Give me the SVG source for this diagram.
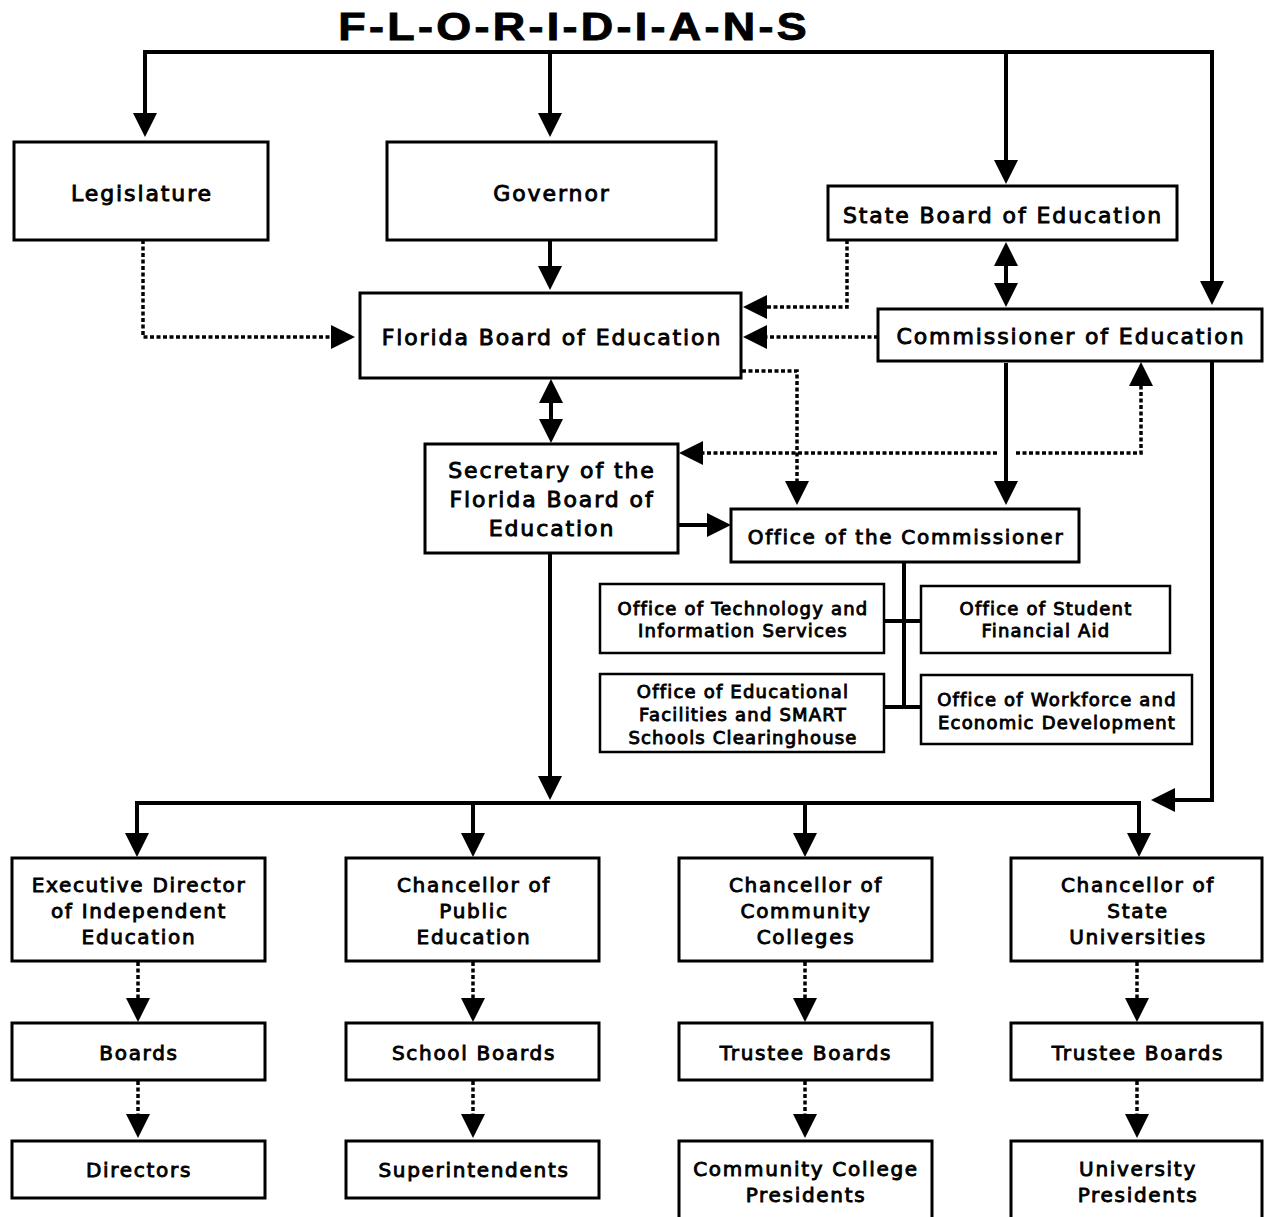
<svg xmlns="http://www.w3.org/2000/svg" width="1264" height="1217" viewBox="0 0 1264 1217">
<style>
.bx{fill:#fff;stroke:#000;stroke-width:3}
.ob{fill:#fff;stroke:#000;stroke-width:2.5}
text{font-family:"DejaVu Sans","Liberation Sans",sans-serif;font-weight:normal;text-anchor:middle;fill:#000;stroke:#000;stroke-width:0.9px}
.t22{font-size:22px;letter-spacing:1.9px}
.t20{font-size:20px;letter-spacing:1.7px}
.t18{font-size:18px;letter-spacing:1.2px}
.title{font-family:"Liberation Sans",Arial,sans-serif;font-weight:bold;font-size:38px;stroke-width:0.9px}
.s{fill:none;stroke:#000;stroke-width:4}
.d{fill:none;stroke:#000;stroke-width:3.5;stroke-dasharray:4 2.5}
.ln{fill:none;stroke:#000;stroke-width:4}
</style>
<defs>
<marker id="ah" markerUnits="userSpaceOnUse" viewBox="0 0 24 24" markerWidth="24" markerHeight="24" refX="14" refY="12" orient="auto-start-reverse">
<path d="M0,0 L24,12 L0,24 z" fill="#000"/>
</marker>
</defs>
<rect width="1264" height="1217" fill="#fff"/>
<text class="title" transform="translate(572.5,40) scale(1.18,1)" x="0" y="0" textLength="397" lengthAdjust="spacing">F-L-O-R-I-D-I-A-N-S</text>

<g id="connectors">
<path class="s" d="M145,127 V52 H1212 V295" marker-start="url(#ah)" marker-end="url(#ah)"/>
<path class="s" d="M550,52 V127" marker-end="url(#ah)"/>
<path class="s" d="M1006,52 V174" marker-end="url(#ah)"/>
<path class="s" d="M550,240 V280" marker-end="url(#ah)"/>
<path class="s" d="M1006,252 V297" marker-start="url(#ah)" marker-end="url(#ah)"/>
<path class="s" d="M551,389 V433" marker-start="url(#ah)" marker-end="url(#ah)"/>
<path class="s" d="M1006,363 V495" marker-end="url(#ah)"/>
<path class="s" d="M678,525 H721" marker-end="url(#ah)"/>
<path class="s" d="M550,553 V790" marker-end="url(#ah)"/>
<path class="s" d="M137,847 V803 H1139 V847" marker-start="url(#ah)" marker-end="url(#ah)"/>
<path class="s" d="M473,803 V847" marker-end="url(#ah)"/>
<path class="s" d="M805,803 V847" marker-end="url(#ah)"/>
<path class="s" d="M1212,361 V800 H1161" marker-end="url(#ah)"/>
<path class="ln" d="M904,562 V709 M884,621 H921 M884,707 H921"/>
<path class="d" d="M143,240 V337 H345" marker-end="url(#ah)"/>
<path class="d" d="M847,240 V307 H753" marker-end="url(#ah)"/>
<path class="d" d="M878,337 H753" marker-end="url(#ah)"/>
<path class="d" d="M742,371 H797 V495" marker-end="url(#ah)"/>
<path class="d" d="M997,453 H689" marker-end="url(#ah)"/>
<path class="d" d="M1016,453 H1141 V372" marker-end="url(#ah)"/>
<path class="d" d="M138,962 V1012" marker-end="url(#ah)"/>
<path class="d" d="M473,962 V1012" marker-end="url(#ah)"/>
<path class="d" d="M805,962 V1012" marker-end="url(#ah)"/>
<path class="d" d="M1137,962 V1012" marker-end="url(#ah)"/>
<path class="d" d="M138,1081 V1128" marker-end="url(#ah)"/>
<path class="d" d="M473,1081 V1128" marker-end="url(#ah)"/>
<path class="d" d="M805,1081 V1128" marker-end="url(#ah)"/>
<path class="d" d="M1137,1081 V1128" marker-end="url(#ah)"/>
</g>

<g id="legislature"><rect class="bx" x="14" y="142" width="254" height="98"/><text class="t22" x="142" y="201">Legislature</text></g>
<g id="governor"><rect class="bx" x="387" y="142" width="329" height="98"/><text class="t22" x="552" y="201">Governor</text></g>
<g id="state-board"><rect class="bx" x="828" y="186" width="349" height="54"/><text class="t22" x="1003" y="223">State Board of Education</text></g>
<g id="florida-board"><rect class="bx" x="360" y="293" width="381" height="85"/><text class="t22" x="552" y="345">Florida Board of Education</text></g>
<g id="commissioner"><rect class="bx" x="878" y="309" width="384" height="52"/><text class="t22" x="1071" y="344">Commissioner of Education</text></g>
<g id="secretary"><rect class="bx" x="425" y="444" width="253" height="109"/><text class="t22"><tspan x="552" y="478">Secretary of the</tspan><tspan x="552" y="507">Florida Board of</tspan><tspan x="552" y="536">Education</tspan></text></g>
<g id="office-commissioner"><rect class="bx" x="731" y="509" width="348" height="53"/><text class="t20" x="906" y="544">Office of the Commissioner</text></g>
<g id="office-tech"><rect class="ob" x="600" y="584" width="284" height="69"/><text class="t18"><tspan x="743" y="615">Office of Technology and</tspan><tspan x="743" y="637">Information Services</tspan></text></g>
<g id="office-student"><rect class="ob" x="921" y="586" width="249" height="67"/><text class="t18"><tspan x="1046" y="615">Office of Student</tspan><tspan x="1046" y="637">Financial Aid</tspan></text></g>
<g id="office-facilities"><rect class="ob" x="600" y="674" width="284" height="78"/><text class="t18"><tspan x="743" y="698">Office of Educational</tspan><tspan x="743" y="721">Facilities and SMART</tspan><tspan x="743" y="744">Schools Clearinghouse</tspan></text></g>
<g id="office-workforce"><rect class="ob" x="921" y="675" width="271" height="69"/><text class="t18"><tspan x="1057" y="706">Office of Workforce and</tspan><tspan x="1057" y="729">Economic Development</tspan></text></g>

<g id="exec-director"><rect class="bx" x="12" y="858" width="253" height="103"/><text class="t20"><tspan x="139" y="892">Executive Director</tspan><tspan x="139" y="918">of Independent</tspan><tspan x="139" y="944">Education</tspan></text></g>
<g id="chancellor-public"><rect class="bx" x="346" y="858" width="253" height="103"/><text class="t20"><tspan x="474" y="892">Chancellor of</tspan><tspan x="474" y="918">Public</tspan><tspan x="474" y="944">Education</tspan></text></g>
<g id="chancellor-cc"><rect class="bx" x="679" y="858" width="253" height="103"/><text class="t20"><tspan x="806" y="892">Chancellor of</tspan><tspan x="806" y="918">Community</tspan><tspan x="806" y="944">Colleges</tspan></text></g>
<g id="chancellor-su"><rect class="bx" x="1011" y="858" width="251" height="103"/><text class="t20"><tspan x="1138" y="892">Chancellor of</tspan><tspan x="1138" y="918">State</tspan><tspan x="1138" y="944">Universities</tspan></text></g>

<g id="boards"><rect class="bx" x="12" y="1023" width="253" height="57"/><text class="t20" x="139" y="1060">Boards</text></g>
<g id="school-boards"><rect class="bx" x="346" y="1023" width="253" height="57"/><text class="t20" x="474" y="1060">School Boards</text></g>
<g id="trustee-cc"><rect class="bx" x="679" y="1023" width="253" height="57"/><text class="t20" x="806" y="1060">Trustee Boards</text></g>
<g id="trustee-su"><rect class="bx" x="1011" y="1023" width="251" height="57"/><text class="t20" x="1138" y="1060">Trustee Boards</text></g>

<g id="directors"><rect class="bx" x="12" y="1141" width="253" height="57"/><text class="t20" x="139" y="1177">Directors</text></g>
<g id="superintendents"><rect class="bx" x="346" y="1141" width="253" height="57"/><text class="t20" x="474" y="1177">Superintendents</text></g>
<g id="cc-presidents"><rect class="bx" x="679" y="1141" width="253" height="90"/><text class="t20"><tspan x="806" y="1176">Community College</tspan><tspan x="806" y="1202">Presidents</tspan></text></g>
<g id="univ-presidents"><rect class="bx" x="1011" y="1141" width="251" height="90"/><text class="t20"><tspan x="1138" y="1176">University</tspan><tspan x="1138" y="1202">Presidents</tspan></text></g>
</svg>
